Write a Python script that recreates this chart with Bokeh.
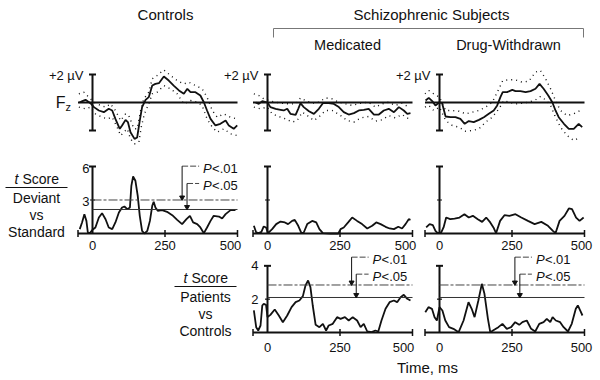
import math
from bokeh.plotting import figure
from bokeh.models import Range1d
from bokeh.core.properties import value
from bokeh.embed import file_html
from bokeh.resources import INLINE

FONT = "Liberation Sans"

# ---------------- data ----------------
# ERP at Fz (microvolts), solid mean and dotted bounds
erp_ctrl_t = [-45, -35, -24, -7, 5, 22, 39, 56, 68, 79, 94, 102, 114, 122, 131, 145, 154, 163, 171, 183, 194, 206, 217, 229, 246, 263, 280, 298, 315, 327, 338, 355, 372, 384, 395, 407, 424, 441, 459, 470, 487, 499]
erp_ctrl_v = [0.0, 0.1, 0.19, -0.05, -0.33, -0.57, -0.69, -0.45, -0.57, -1.17, -1.88, -1.64, -1.24, -1.4, -2.12, -2.6, -2.5, -1.29, -0.33, 0.19, 0.38, 1.21, 1.33, 1.38, 1.86, 1.57, 1.21, 0.86, 0.62, 0.98, 0.74, 0.74, 0.5, 0.02, -0.57, -1.17, -1.64, -1.52, -1.29, -1.64, -1.88, -1.64]
erp_ctrl_hi_t = [-47, -30, -13, 5, 28, 45, 62, 79, 97, 114, 125, 143, 154, 166, 177, 194, 206, 223, 246, 269, 292, 315, 332, 355, 378, 395, 413, 430, 453, 476, 499]
erp_ctrl_hi_v = [0.62, 0.74, 0.38, 0.02, -0.21, -0.33, -0.1, -0.57, -1.29, -0.81, -0.93, -1.88, -1.88, -0.57, 0.26, 0.74, 1.69, 1.93, 2.33, 1.93, 1.57, 1.33, 1.45, 1.21, 0.98, 0.38, -0.57, -1.05, -0.81, -1.05, -1.17]
erp_ctrl_lo_t = [-47, -24, -7, 10, 33, 51, 68, 85, 97, 108, 120, 131, 145, 160, 168, 179, 194, 206, 223, 246, 269, 292, 315, 338, 361, 378, 395, 413, 430, 453, 476, 499]
erp_ctrl_lo_v = [-0.33, -0.45, -0.33, -0.81, -1.05, -1.17, -1.05, -1.76, -2.36, -2.12, -1.88, -2.6, -2.95, -2.83, -1.76, -0.81, -0.1, 0.62, 0.74, 1.21, 0.98, 0.62, -0.1, 0.14, 0.02, -0.21, -1.17, -1.76, -2.12, -1.88, -2.24, -2.36]

erp_med_t = [-41, -30, -18, 0, 10, 28, 45, 56, 68, 79, 97, 106, 114, 125, 143, 160, 177, 191, 211, 229, 246, 263, 280, 298, 315, 332, 349, 367, 384, 401, 418, 436, 453, 470, 482, 493]
erp_med_v = [0.0, -0.1, 0.1, 0.0, -0.33, -0.45, -0.52, -0.57, -0.45, -0.81, -0.88, -0.45, -0.05, -0.33, -0.62, -0.81, -0.45, -0.05, -0.05, -0.1, -0.33, -0.69, -0.86, -0.76, -0.57, -0.52, -0.45, -0.86, -0.86, -0.57, -0.45, -0.69, -0.33, -0.57, -0.81, -0.76]
erp_med_hi_t = [-47, -30, -13, 5, 28, 51, 74, 97, 114, 131, 154, 177, 200, 223, 246, 269, 292, 321, 349, 372, 395, 418, 441, 464, 487]
erp_med_hi_v = [0.62, 0.5, 0.26, 0.14, 0.02, -0.05, -0.1, -0.1, 0.33, 0.14, -0.05, 0.02, 0.33, 0.26, 0.02, -0.1, -0.21, -0.05, 0.02, -0.33, -0.1, 0.02, -0.21, -0.05, -0.33]
erp_med_lo_t = [-47, -24, -1, 16, 39, 62, 85, 102, 120, 137, 160, 179, 200, 223, 252, 275, 298, 321, 349, 372, 395, 418, 441, 464, 487]
erp_med_lo_v = [-0.33, -0.45, -0.33, -0.81, -1.0, -1.17, -1.4, -1.29, -0.69, -0.93, -1.29, -1.0, -0.57, -0.57, -0.93, -1.29, -1.4, -1.1, -1.0, -1.33, -1.24, -0.93, -1.1, -0.86, -1.17]

erp_dw_t = [-48, -37, -25, -14, 0, 9, 21, 38, 55, 72, 87, 101, 118, 136, 153, 170, 187, 199, 210, 218, 233, 251, 262, 279, 297, 314, 331, 345, 359, 375, 389, 400, 411, 429, 446, 463, 480, 492]
erp_dw_v = [0.14, 0.33, 0.1, -0.21, 0.02, -0.05, -1.0, -1.05, -1.05, -1.17, -1.52, -1.33, -1.4, -1.24, -1.05, -0.81, -0.57, -0.21, 0.38, 0.74, 0.74, 0.9, 0.81, 0.81, 0.74, 0.81, 0.98, 1.33, 0.98, 0.5, 0.02, -0.57, -1.05, -1.52, -1.88, -1.88, -1.52, -1.76]
erp_dw_hi_t = [-50, -37, -20, 0, 21, 44, 67, 90, 113, 136, 159, 182, 205, 218, 239, 262, 285, 308, 331, 348, 366, 383, 400, 417, 440, 463, 486]
erp_dw_hi_v = [0.62, 0.86, 0.62, 0.38, -0.57, -0.57, -0.62, -0.81, -0.69, -0.57, -0.33, 0.02, 0.98, 1.57, 1.62, 1.62, 1.45, 1.52, 2.17, 2.29, 1.69, 0.98, 0.14, -0.57, -0.93, -0.81, -0.57]
erp_dw_lo_t = [-50, -37, -20, 0, 21, 44, 67, 90, 113, 136, 159, 182, 205, 222, 239, 262, 285, 308, 331, 348, 366, 383, 400, 417, 440, 463, 486]
erp_dw_lo_v = [-0.33, -0.21, -0.57, -0.33, -1.29, -1.64, -1.76, -2.05, -2.0, -1.88, -1.4, -1.05, -0.45, 0.14, 0.02, -0.1, -0.05, 0.02, 0.19, 0.43, 0.19, -0.21, -1.05, -1.76, -2.36, -2.71, -2.48]

# t scores, deviant vs standard
dvs_ctrl_t = [-44, -36, -28, -21, -16, -9, 0, 10, 22, 33, 45, 56, 68, 79, 91, 102, 110, 120, 129, 134, 140, 148, 156, 163, 171, 179, 189, 198, 206, 211, 217, 225, 240, 257, 275, 292, 309, 324, 336, 347, 361, 372, 384, 395, 407, 418, 436, 447, 459, 476, 493]
dvs_ctrl_v = [0.39, 0.99, 1.73, 1.13, 0.09, 0.03, 0.33, 0.54, 1.43, 1.82, 1.28, 0.54, 0.39, 0.99, 1.88, 2.33, 2.42, 2.18, 2.33, 4.27, 5.1, 4.72, 3.37, 1.58, 0.24, 0.0, 0.24, 1.13, 2.48, 2.84, 2.33, 2.03, 2.09, 1.94, 1.64, 1.22, 0.84, 1.28, 1.58, 0.99, 0.84, 0.54, 0.03, 0.54, 1.13, 1.58, 1.52, 1.34, 1.73, 2.09, 2.09]
dvs_med_t = [-47, -39, -30, -21, -13, -5, 2, 16, 30, 45, 60, 71, 85, 94, 106, 117, 125, 137, 154, 168, 179, 191, 217, 244, 252, 263, 278, 292, 309, 326, 344, 361, 375, 390, 407, 421, 436, 451, 464, 476, 487, 493]
dvs_med_v = [0.69, 0.09, 0.03, 0.15, 0.63, 0.54, 0.03, 0.39, 0.84, 1.07, 0.99, 0.84, 1.13, 1.22, 0.69, 0.03, 0.09, 0.84, 1.13, 0.99, 0.39, 0.03, 0.0, 0.0, 0.39, 0.54, 0.99, 1.43, 1.13, 0.84, 0.45, 0.69, 0.99, 0.84, 0.6, 0.45, 0.39, 0.6, 0.45, 0.84, 1.28, 1.22]
dvs_dw_t = [-46, -34, -23, -14, -6, 6, 14, 23, 37, 52, 69, 86, 101, 115, 132, 147, 161, 175, 186, 195, 209, 224, 241, 262, 282, 305, 328, 351, 374, 391, 400, 414, 431, 446, 457, 471, 483, 497]
dvs_dw_v = [0.54, 0.84, 0.75, 0.24, 0.03, 0.09, 0.54, 1.43, 1.28, 1.34, 1.43, 1.73, 1.43, 1.58, 1.28, 1.04, 1.43, 0.99, 0.54, 0.03, 1.13, 1.64, 1.58, 1.73, 1.43, 1.13, 0.84, 1.04, 0.69, 0.24, 0.03, 1.13, 1.58, 2.24, 2.18, 1.43, 1.13, 1.43]

# t scores, patients vs controls
pvc_med_t = [-47, -39, -32, -24, -18, -13, -5, 0, 10, 25, 39, 53, 68, 83, 97, 110, 122, 131, 140, 148, 156, 166, 179, 191, 202, 211, 225, 240, 252, 267, 280, 294, 309, 321, 332, 344, 359, 372, 382, 393, 407, 421, 436, 447, 459, 470, 482, 493]
pvc_med_v = [1.32, 0.32, 0.12, 0.42, 1.62, 1.72, 1.66, 0.92, 1.06, 1.38, 1.02, 0.62, 1.02, 1.52, 1.82, 1.92, 2.18, 2.82, 3.12, 2.72, 1.62, 0.46, 0.32, 0.52, 0.12, 0.42, 0.52, 0.92, 0.82, 0.92, 0.72, 0.92, 0.72, 0.32, 0.52, 0.06, 0.02, 0.12, 0.06, 0.72, 1.42, 1.82, 1.92, 1.82, 2.12, 2.26, 2.02, 1.92]
pvc_dw_t = [-49, -38, -26, -17, -9, 0, 10, 20, 33, 48, 66, 83, 100, 111, 121, 134, 146, 155, 167, 175, 190, 203, 217, 232, 247, 261, 275, 286, 301, 316, 330, 344, 359, 370, 382, 390, 401, 416, 428, 443, 456, 470, 477, 485, 493]
pvc_dw_v = [1.22, 1.52, 1.42, 0.92, 0.72, 1.52, 1.32, 0.72, 0.32, 0.22, 0.02, 0.72, 1.82, 1.42, 0.92, 1.92, 2.92, 2.32, 0.82, 0.02, 0.18, 0.32, 0.52, 0.22, 0.32, 0.62, 0.46, 0.62, 0.72, 0.22, 0.06, 0.52, 0.62, 0.82, 0.62, 0.92, 0.72, 0.62, 0.32, 0.06, 0.52, 1.42, 1.62, 1.32, 1.02]

# significance thresholds and where their arrows point (ms)
dvs_p01, dvs_p05 = 3.0, 2.15
pvc_p01, pvc_p05 = 2.85, 2.1
dvs_arrow_t = [309, 326]
pvc_med_arrow_t = [290, 306]
pvc_dw_arrow_t = [260, 277]
dvs_plabel_y = [5.85, 4.3]
pvc_plabel_y = [4.4, 3.38]

time_ticks = [0, 250, 500]
time_tick_labels = ["0", "250", "500"]
t_min, t_max = -50, 500
erp_lim = 2
dvs_ticks = [3, 6]
pvc_ticks = [2, 4]

# ---------------- layout (page pixel geometry) ----------------
W, H = 600, 380
col_zero = [92, 267, 439]
ms_px = 0.29
row_base = [102, 233, 332]
row_px = [14.0, 11.17, 16.67]

p = figure(width=W, height=H, output_backend="svg", toolbar_location=None,
           x_range=Range1d(0, W), y_range=Range1d(H, 0),
           x_axis_type=None, y_axis_type=None, min_border=0)
p.grid.visible = False
p.outline_line_color = None
p.background_fill_color = "white"

p.extra_x_ranges = {f"c{i}": Range1d(-z / ms_px, (W - z) / ms_px) for i, z in enumerate(col_zero)}
p.extra_y_ranges = {f"r{i}": Range1d((b - H) / s, b / s) for i, (b, s) in enumerate(zip(row_base, row_px))}

INK = "#111111"


def R(c, r):
    return dict(x_range_name=f"c{c}", y_range_name=f"r{r}")


def txt(x, y, s, size, align="center", style="normal", base="middle", **kw):
    p.text(x=x if isinstance(x, list) else [x], y=y if isinstance(y, list) else [y],
           text=s if isinstance(s, list) else [s],
           text_font=value(FONT), text_font_size=value(size), text_font_style=style,
           text_align=align, text_baseline=base, text_color=INK, **kw)


# ---------- top row: ERPs ----------
erps = [(erp_ctrl_t, erp_ctrl_v, erp_ctrl_hi_t, erp_ctrl_hi_v, erp_ctrl_lo_t, erp_ctrl_lo_v),
        (erp_med_t, erp_med_v, erp_med_hi_t, erp_med_hi_v, erp_med_lo_t, erp_med_lo_v),
        (erp_dw_t, erp_dw_v, erp_dw_hi_t, erp_dw_hi_v, erp_dw_lo_t, erp_dw_lo_v)]
for c, (t, v, ht, hv, lt, lv) in enumerate(erps):
    rr = R(c, 0)
    p.line([t_min, t_max], [0, 0], line_color=INK, line_width=2, **rr)
    p.line([0, 0], [-erp_lim, erp_lim], line_color=INK, line_width=2, **rr)
    p.scatter([0, 0], [-erp_lim, erp_lim], marker="dash", size=7, line_color=INK, line_width=2, **rr)
    p.line(ht, hv, line_color=INK, line_width=1.4, line_dash="1 4", **rr)
    p.line(lt, lv, line_color=INK, line_width=1.4, line_dash="1 4", **rr)
    p.line(t, v, line_color=INK, line_width=1.8, **rr)
    txt(0, erp_lim, "+2 \u00b5V", "13px", align="right", x_offset=-9, y_offset=1, **rr)
txt(0, 0, "F", "16px", align="right", x_offset=-27, y_offset=0, **R(0, 0))
txt(0, 0, "z", "11px", align="left", x_offset=-27, y_offset=4, **R(0, 0))


# ---------- t-score panels ----------
def t_panel(c, r, t, v, ymax, ymid, ylabels, xlabel_dy, x500_off):
    rr = R(c, r)
    p.line([t_min, t_max], [0, 0], line_color=INK, line_width=2, **rr)
    p.scatter([t_min] + time_ticks[1:], [0] * len(time_ticks), marker="dash", angle=math.pi / 2,
              size=7, line_color=INK, line_width=1.5, **rr)
    p.line([0, 0], [0, ymax], line_color=INK, line_width=2, **rr)
    p.scatter([0], [ymax], marker="dash", size=7, line_color=INK, line_width=2, **rr)
    p.scatter([0], [ymid], marker="dash", size=5, line_color=INK, line_width=1.2, **rr)
    p.line(t, v, line_color=INK, line_width=1.8, **rr)
    p.text(x=time_ticks, y=[0] * 3, text=time_tick_labels, x_offset=[0, 0, x500_off], y_offset=xlabel_dy,
           text_font=value(FONT), text_font_size=value("13px"), text_align="center",
           text_baseline="middle", text_color=INK, **rr)
    if ylabels:
        txt([0, 0], [ymid, ymax], [str(ymid), str(ymax)], "13px", align="right",
            x_offset=ylabels[0], y_offset=ylabels[1], **rr)


def thresholds(c, r, p01, p05, arrow_t, label_y):
    rr = R(c, r)
    p.line([0, t_max], [p01, p01], line_color="#444444", line_width=1, line_dash="9 2 3 2", **rr)
    p.line([0, t_max], [p05, p05], line_color="#333333", line_width=1, **rr)
    text_t = arrow_t[0] + 21 / ms_px
    for at, lvl, ly, lab in zip(arrow_t, [p01, p05], label_y, ["<.01", "<.05"]):
        top = ly + 2 / row_px[r]
        p.line([at, text_t - 4 / ms_px], [top, top], line_color="#444444", line_width=1, line_dash="6 2", **rr)
        p.line([at, at], [top, lvl + 3 / row_px[r]], line_color=INK, line_width=1, **rr)
        p.scatter([at], [lvl + 2.5 / row_px[r]], marker="inverted_triangle", size=5, fill_color=INK,
                  line_color=INK, **rr)
        txt(text_t, ly, "P", "13px", align="left", style="italic", **rr)
        txt(text_t, ly, lab, "13px", align="left", x_offset=9, **rr)


t_panel(0, 1, dvs_ctrl_t, dvs_ctrl_v, dvs_ticks[1], dvs_ticks[0], (-3, 2), 12, -7)
t_panel(1, 1, dvs_med_t, dvs_med_v, dvs_ticks[1], dvs_ticks[0], None, 12, -7)
t_panel(2, 1, dvs_dw_t, dvs_dw_v, dvs_ticks[1], dvs_ticks[0], None, 12, -3)
thresholds(0, 1, dvs_p01, dvs_p05, dvs_arrow_t, dvs_plabel_y)

t_panel(1, 2, pvc_med_t, pvc_med_v, pvc_ticks[1], pvc_ticks[0], (-9, 0), 15, -9)
t_panel(2, 2, pvc_dw_t, pvc_dw_v, pvc_ticks[1], pvc_ticks[0], None, 15, -3)
thresholds(1, 2, pvc_p01, pvc_p05, pvc_med_arrow_t, pvc_plabel_y)
thresholds(2, 2, pvc_p01, pvc_p05, pvc_dw_arrow_t, pvc_plabel_y)

# ---------- titles and row labels (page coordinates) ----------
txt(165, 14, "Controls", "15px")
txt(431, 14, "Schizophrenic Subjects", "15px")
p.line([273, 273, 583, 583], [37, 28, 28, 37], line_color="#777777", line_width=1)
txt(347, 44, "Medicated", "14.5px")
txt(508, 44, "Drug-Withdrawn", "14.5px")
txt(427, 367, "Time, ms", "15px")


def row_label(cx, y0, lines):
    # "t Score" with italic t, an underline, then the comparison
    left = cx - 22
    txt(left + 4, y0, "t", "14px", align="right", style="italic")
    txt(left + 4, y0, "Score", "14px", align="left", x_offset=4)
    p.line([cx - 31, cx + 31], [y0 + 9, y0 + 9], line_color=INK, line_width=1)
    for i, s in enumerate(lines):
        txt(cx, y0 + 19 + 17 * i, s, "14px")


row_label(36, 178, ["Deviant", "vs", "Standard"])
row_label(205, 277, ["Patients", "vs", "Controls"])

open("out.html", "w").write(file_html(p, INLINE))
